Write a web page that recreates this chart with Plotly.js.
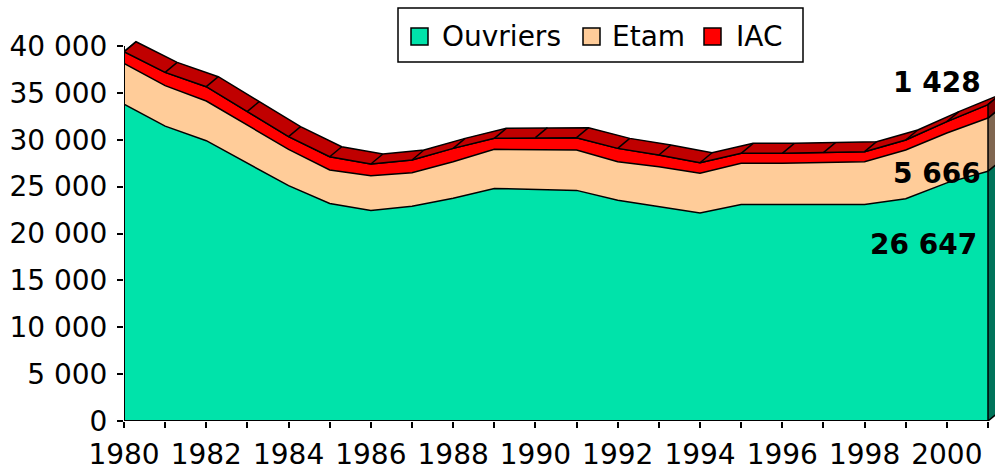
<!DOCTYPE html>
<html>
<head>
<meta charset="utf-8">
<script src="https://cdn.plot.ly/plotly-3.0.1.min.js"></script>
<style>html,body{margin:0;padding:0;background:#fff;}#chart{width:995px;height:470px;}</style>
</head>
<body>
<div id="chart"></div>
<script>
const years = [1980,1981,1982,1983,1984,1985,1986,1987,1988,1989,1990,1991,1992,1993,1994,1995,1996,1997,1998,1999,2000,2001];
const ouvriers = [33800,31450,29900,27500,25100,23200,22450,22900,23750,24800,24700,24600,23550,22900,22200,23100,23100,23100,23100,23700,25400,26647];
const etam = [4350,4320,4230,4100,3880,3570,3720,3590,3910,4180,4280,4300,4110,4230,4220,4390,4390,4500,4560,5200,5320,5666];
const iac = [1240,1420,1530,1430,1350,1420,1240,1350,1420,1170,1240,1320,1420,1240,1130,1060,1060,1020,1070,1070,1210,1428];
const seriesNames = ['Ouvriers','Etam','IAC'];
const xTickYears = [1980,1982,1984,1986,1988,1990,1992,1994,1996,1998,2000];
const yTickVals = [0,5000,10000,15000,20000,25000,30000,35000,40000];

// style
const colors = ['#00E3AA','#FFCC99','#FF0000'];
const sideColors = ['#00735A','#806650','#800000'];
const topColor = '#C00000';
const depthX = 0.292, depthY = 1067;
const FONT = 'DejaVu Sans';
const ML = 124, PW = 871, PH = 421;
const px2x = p => (p-ML)/PW;
const py2y = p => (PH-p)/PH;

const cum1 = ouvriers.slice();
const cum2 = ouvriers.map((v,i)=>v+etam[i]);
const cum3 = cum2.map((v,i)=>v+iac[i]);
const lineStyle = {color:'#000', width:1.5};

const traces = [
  {x:years, y:cum1, type:'scatter', mode:'lines', fill:'tozeroy', fillcolor:colors[0], line:lineStyle, showlegend:false, hoverinfo:'skip'},
  {x:years, y:cum2, type:'scatter', mode:'lines', fill:'tonexty', fillcolor:colors[1], line:lineStyle, showlegend:false, hoverinfo:'skip'},
  {x:years, y:cum3, type:'scatter', mode:'lines', fill:'tonexty', fillcolor:colors[2], line:lineStyle, showlegend:false, hoverinfo:'skip'}
];
// 3D top surface of the stack
const rx = years.slice().reverse().map(v=>v+depthX);
const ry = cum3.slice().reverse().map(v=>v+depthY);
traces.push({x:years.concat(rx,[years[0]]), y:cum3.concat(ry,[cum3[0]]), type:'scatter', mode:'lines', fill:'toself', fillcolor:topColor, line:lineStyle, showlegend:false, hoverinfo:'skip'});
// dividers on top surface
const dvx=[], dvy=[];
years.forEach((yr,i)=>{dvx.push(yr, yr+depthX, null); dvy.push(cum3[i], cum3[i]+depthY, null);});
traces.push({x:dvx, y:dvy, type:'scatter', mode:'lines', line:lineStyle, showlegend:false, hoverinfo:'skip'});
// right side faces
const n = years.length-1, X = years[n];
const bottoms = [0, cum1[n], cum2[n]], tops = [cum1[n], cum2[n], cum3[n]];
for (let k=0;k<3;k++){
  traces.push({x:[X, X+depthX, X+depthX, X, X], y:[bottoms[k], bottoms[k]+depthY, tops[k]+depthY, tops[k], bottoms[k]],
    type:'scatter', mode:'lines', fill:'toself', fillcolor:sideColors[k], line:lineStyle, showlegend:false, hoverinfo:'skip'});
}

const fmt = v => String(v).replace(/\B(?=(\d{3})+(?!\d))/g,' ');

// legend (drawn as layout shapes + text)
const legBox = {x0:398, x1:803, y0:8, y1:62};
const legSw = [[411,428],[583,600],[704,721]];
const legTx = [441, 611, 735];
const legShapes = [{type:'rect', xref:'paper', yref:'paper', x0:px2x(legBox.x0), x1:px2x(legBox.x1), y0:py2y(legBox.y1), y1:py2y(legBox.y0), line:{color:'#000', width:1.5}, fillcolor:'#fff', layer:'above'}];
const legAnn = [];
seriesNames.forEach((nm,k)=>{
  legShapes.push({type:'rect', xref:'paper', yref:'paper', x0:px2x(legSw[k][0]), x1:px2x(legSw[k][1]), y0:py2y(45), y1:py2y(28), line:{color:'#000', width:1.5}, fillcolor:colors[k], layer:'above'});
  legAnn.push({xref:'paper', yref:'paper', x:px2x(legTx[k]), y:py2y(37), text:nm, showarrow:false, xanchor:'left', yanchor:'middle', borderpad:0, font:{family:FONT, size:28, color:'#000'}});
});

const layout = {
  width:995, height:470,
  margin:{l:ML, r:0, t:0, b:49},
  paper_bgcolor:'#fff', plot_bgcolor:'rgba(0,0,0,0)',
  separators:', ',
  font:{family:FONT, size:28, color:'#000'},
  showlegend:false,
  xaxis:{range:[1980, 2001.17], tickvals:xTickYears, ticktext:xTickYears.map(String),
    ticks:'outside', ticklen:6, tickwidth:2, tickcolor:'#000',
    minor:{tick0:1980, dtick:1, ticks:'outside', ticklen:6, tickwidth:2, tickcolor:'#000', showgrid:false},
    showgrid:false, zeroline:false, showline:false, fixedrange:true, ticklabelstandoff:2},
  yaxis:{range:[0, 44907], tickvals:yTickVals, tickformat:',d',
    ticks:'outside', ticklen:6, tickwidth:2, tickcolor:'#000',
    showgrid:false, zeroline:false, showline:false, fixedrange:true, ticklabelstandoff:4},
  shapes:[
    {type:'line', xref:'x', yref:'y', x0:years[0], x1:years[0], y0:0, y1:yTickVals[yTickVals.length-1], line:{color:'#000', width:2}, layer:'above'},
    {type:'line', xref:'x', yref:'y', x0:years[0], x1:X, y0:0, y1:0, line:{color:'#000', width:2}, layer:'above'}
  ].concat(legShapes),
  annotations:[
    {x:X, y:cum3[n], xref:'x', yref:'y', text:'<b>'+fmt(iac[n])+'</b>', showarrow:false, xanchor:'right', yanchor:'middle', xshift:-5, yshift:22, font:{family:FONT, size:28, color:'#000'}},
    {x:X, y:cum2[n], xref:'x', yref:'y', text:'<b>'+fmt(etam[n])+'</b>', showarrow:false, xanchor:'right', yanchor:'middle', xshift:-5, yshift:-55, font:{family:FONT, size:28, color:'#000'}},
    {x:X, y:cum1[n], xref:'x', yref:'y', text:'<b>'+fmt(ouvriers[n])+'</b>', showarrow:false, xanchor:'right', yanchor:'middle', xshift:-9, yshift:-73, font:{family:FONT, size:28, color:'#000'}}
  ].concat(legAnn)
};
Plotly.newPlot('chart', traces, layout, {displayModeBar:false, staticPlot:true});
</script>
</body>
</html>
